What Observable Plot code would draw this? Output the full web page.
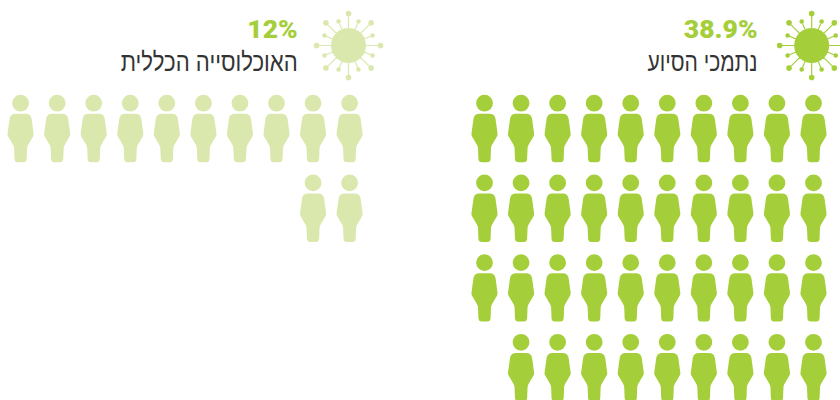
<!DOCTYPE html>
<html><head><meta charset="utf-8">
<script src="https://cdn.jsdelivr.net/npm/d3@7"></script>
<script src="https://cdn.jsdelivr.net/npm/@observablehq/plot@0.6"></script>
<style>html,body{margin:0;padding:0;background:#fff}svg{display:block}</style>
</head><body><div id="chart"></div>
<script>
// Panels: share of each population, one figure per 1%
const panelNames = ["נתמכי הסיוע", "האוכלוסייה הכללית"];
const panelShares = ["38.9%", "12%"];
const panelRowCounts = [[10, 10, 10, 9], [10, 2]];
const panelColumnShift = [0, 12.69];
const panelFigureColors = ["#a5cf3a", "#dae8ae"];
const percentColor = "#a5cf3a";
const nameColor = "#333333";
const virusColumn = [0.05, 12.72];
const textColumn = [1.53, 14.11];
const virusRow = -0.724;
const percentRow = -0.82;
const nameRow = -0.41;
const nameWidths = [110, 177];

const people = panelRowCounts.flatMap((rows, p) =>
  rows.flatMap((n, row) => d3.range(n).map(i => ({panel: p, column: i + panelColumnShift[p], row})))
);
const panels = panelNames.map((name, p) => ({
  name, share: panelShares[p], vx: virusColumn[p], tx: textColumn[p], color: panelFigureColors[p]
}));

const personSymbol = {
  draw(c) {
    c.moveTo(8.4, 0); c.arc(0, 0, 8.4, 0, 2 * Math.PI); c.closePath();
    c.moveTo(-5, 10.6);
    c.lineTo(5, 10.6);
    c.bezierCurveTo(8.6, 10.6, 10.4, 12.5, 11, 15.5);
    c.lineTo(13, 30);
    c.quadraticCurveTo(13.3, 32, 12.3, 33.5);
    c.lineTo(7.6, 41.5);
    c.quadraticCurveTo(6.6, 43, 6.5, 45);
    c.lineTo(6.1, 55.5);
    c.quadraticCurveTo(5.9, 59, 2.8, 59);
    c.lineTo(-2.8, 59);
    c.quadraticCurveTo(-5.9, 59, -6.1, 55.5);
    c.lineTo(-6.5, 45);
    c.quadraticCurveTo(-6.6, 43, -7.6, 41.5);
    c.lineTo(-12.3, 33.5);
    c.quadraticCurveTo(-13.3, 32, -13, 30);
    c.lineTo(-11, 15.5);
    c.bezierCurveTo(-10.4, 12.5, -8.6, 10.6, -5, 10.6);
    c.closePath();
  }
};

const virusSymbol = {
  draw(c) {
    const spike = (a, len, knob) => {
      const ux = Math.cos(a), uy = Math.sin(a), w = -0.6;
      c.moveTo(ux * 15 - uy * w, uy * 15 + ux * w);
      c.lineTo(ux * len - uy * w, uy * len + ux * w);
      c.lineTo(ux * len + uy * w, uy * len - ux * w);
      c.lineTo(ux * 15 + uy * w, uy * 15 - ux * w);
      c.closePath();
      c.moveTo(ux * len + knob, uy * len);
      c.arc(ux * len, uy * len, knob, 0, 2 * Math.PI);
      c.closePath();
    };
    c.moveTo(17.5, 0); c.arc(0, 0, 17.5, 0, 2 * Math.PI); c.closePath();
    for (let i = 0; i < 8; i++) {
      spike(i * Math.PI / 4, 32, 2.8);
      spike((i + 0.5) * Math.PI / 4, 26, 2.3);
    }
  }
};

const chart = Plot.plot({
  width: 840, height: 400, margin: 0,
  x: {domain: [0, 9], range: [813, 484], axis: null},
  y: {domain: [0, 3], range: [102.7, 341.8], axis: null},
  style: {background: "#fff"},
  marks: [
    Plot.dot(people, {x: "column", y: "row", r: 5, symbol: personSymbol,
      fill: d => panelFigureColors[d.panel]}),
    Plot.dot(panels, {x: "vx", y: () => virusRow, r: 5, symbol: virusSymbol, fill: "color"}),
    Plot.text(panels, {x: "tx", y: () => percentRow, text: "share", textAnchor: "end",
      fontFamily: "Roboto", fontWeight: 900, fontSize: 26.5, fill: percentColor, lineAnchor: "bottom"}),
    Plot.text(panels, {x: "tx", y: () => nameRow, text: "name", textAnchor: "end", className: "panel-name",
      fontFamily: "Liberation Sans", fontWeight: 400, fontSize: 26, fill: nameColor, lineAnchor: "bottom"})
  ]
});
d3.select(chart).selectAll(".panel-name text")
  .attr("textLength", (d, i) => nameWidths[i])
  .attr("lengthAdjust", "spacingAndGlyphs");
document.getElementById("chart").append(chart);
</script></body></html>
